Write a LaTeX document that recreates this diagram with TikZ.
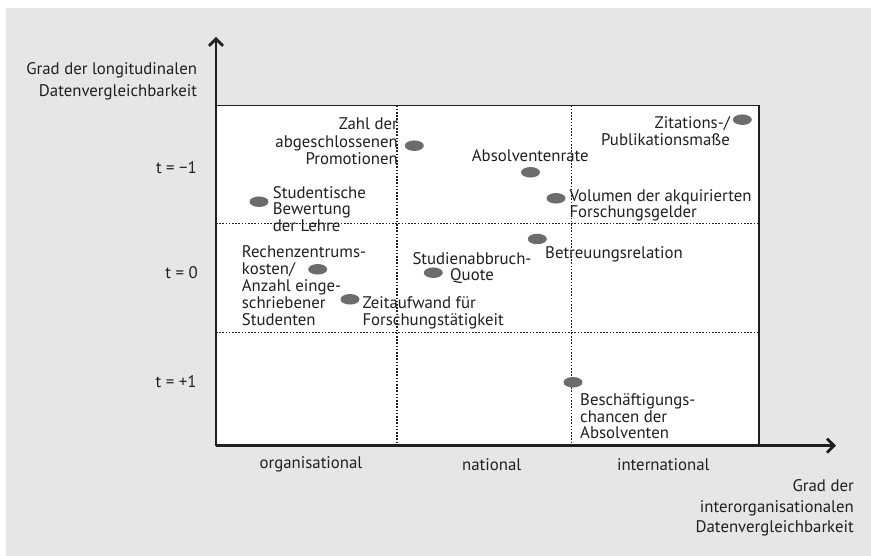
\documentclass[tikz,border=0pt]{standalone}
\usepackage{fontspec}
\setmainfont{PT Sans}
\usetikzlibrary{arrows.meta,shapes.geometric}
\definecolor{bggray}{HTML}{E5E6E8}
\definecolor{dotgray}{HTML}{6B6C6E}
\definecolor{ink}{HTML}{231F20}
\newcommand{\fs}[1]{\fontsize{16.8}{#1}\selectfont}
\tikzset{
  lbl/.style={inner sep=0pt, text=ink, font=\fs{17}},
  dot/.style={ellipse, fill=dotgray, minimum width=19pt, minimum height=10.5pt, inner sep=0pt},
  grid/.style={ink, line width=1.1pt, dash pattern=on 1.6pt off 1.6pt},
  axis/.style={ink, line width=2.8pt, -{Straight Barb[length=7pt,width=14pt]}},
}
\begin{document}
\begin{tikzpicture}[x=1pt,y=-1pt]
\useasboundingbox (0,0) rectangle (871,556);
\fill[white] (0,0) rectangle (871,556);
\fill[bggray] (6,8) rectangle (871,556);
% plot area
\fill[white] (216,105.7) rectangle (759,445.7);
\draw[ink, line width=1.3pt] (216,105.7) -- (759,105.7) -- (759,445.7);
% grid lines
\draw[grid] (397,105.7) -- (397,445.7);
\draw[grid] (571.7,105.7) -- (571.7,445.7);
\draw[grid] (216,223.3) -- (759,223.3);
\draw[grid] (216,332.3) -- (759,332.3);
% axes
\coordinate (O) at (216,445.7);
\coordinate (ytop) at (216,37);
\coordinate (xend) at (836,445.7);
\draw[axis] (O) -- (ytop);
\draw[axis] (O) -- (xend);
% axis labels (base = baseline of last line)
\node[lbl, anchor=base east, align=right, font=\fs{21.7}] (ylab) at (197.3,96.7) {Grad der longitudinalen\\Datenvergleichbarkeit};
\node[lbl, anchor=base east, align=right, font=\fs{20.5}] (xlab) at (854,532.7) {Grad der\\interorganisationalen\\Datenvergleichbarkeit};
\node[lbl, anchor=base east] (tm1) at (197,174) {t = −1};
\node[lbl, anchor=base east] (t0) at (198,278.7) {t = 0};
\node[lbl, anchor=base east] (tp1) at (196.7,387) {t = +1};
\node[lbl, anchor=base] (org) at (311,468.5) {organisational};
\node[lbl, anchor=base] (nat) at (491.7,470.5) {national};
\node[lbl, anchor=base] (int) at (663.3,470) {international};
% data points
\node[dot] (e1) at (414.3,145.7) {};
\node[dot] (e2) at (530.5,172.3) {};
\node[dot] (e3) at (556,198.3) {};
\node[dot] (e4) at (259,201.7) {};
\node[dot] (e5) at (537.3,239) {};
\node[dot] (e6) at (317.7,269.3) {};
\node[dot] (e7) at (433.3,272.7) {};
\node[dot] (e8) at (350,299.3) {};
\node[dot] (e9) at (742.3,119.7) {};
\node[dot] (e10) at (573,382.3) {};
% data labels (base = baseline of last line)
\node[lbl, anchor=base east, align=right, font=\fs{17.5}] (l1) at (398,165) {Zahl der\\abgeschlossenen\\Promotionen};
\node[lbl, anchor=base west] (l2) at (471.7,161.7) {Absolventenrate};
\node[lbl, anchor=base west, align=left, font=\fs{15.7}] (l3) at (569.3,217.7) {Volumen der akquirierten\\Forschungsgelder};
\node[lbl, anchor=base west, align=left, font=\fs{16.4}] (l4) at (272.7,231.1) {Studentische\\Bewertung\\der Lehre};
\node[lbl, anchor=base west] (l5) at (545,258.3) {Betreuungsrelation};
\node[lbl, anchor=base west, align=left, font=\fs{16.9}] (l6) at (241.7,325.3) {Rechenzentrums-\\kosten/\\Anzahl einge-\\schriebener\\Studenten};
\node[lbl, anchor=base, align=center, font=\fs{16.7}] (l7) at (472,281) {Studienabbruch-\\Quote};
\node[lbl, anchor=base west, align=left, font=\fs{17.3}] (l8) at (362.3,326) {Zeitaufwand für\\Forschungstätigkeit};
\node[lbl, anchor=base east, align=right, font=\fs{17}] (l9) at (730,145.3) {Zitations-/\\Publikationsmaße};
\node[lbl, anchor=base west, align=left, font=\fs{16.7}] (l10) at (580,438.7) {Beschäftigungs-\\chancen der\\Absolventen};
\end{tikzpicture}
\end{document}
